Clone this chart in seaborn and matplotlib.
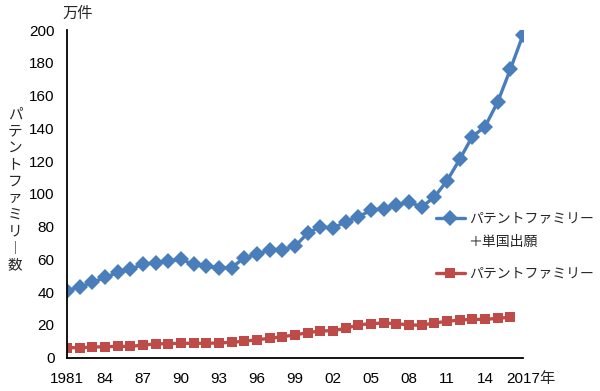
import matplotlib
matplotlib.use("Agg")
import matplotlib.pyplot as plt
import seaborn as sns
import pandas as pd

# データ（万件）
years_total = list(range(1981, 2018))
family_plus_single = [41, 43, 46, 49, 52, 54, 57, 58, 59, 60, 57, 56, 55, 55, 61,
                      63, 66, 66, 68, 76, 80, 79, 83, 86, 90, 91, 93, 95, 92, 98,
                      108, 121, 135, 141, 156, 176, 197]
years_family = list(range(1981, 2017))
family = [6.1, 6.1, 6.5, 6.7, 6.9, 6.9, 7.7, 8.4, 8.6, 8.8, 8.8, 8.8, 9.0, 9.4, 10.0,
          11.0, 11.8, 12.8, 13.9, 15.3, 16.3, 16.5, 17.9, 20.0, 20.8, 21.2, 20.8, 20.0,
          19.8, 21.2, 22.2, 23.0, 23.4, 23.4, 24.0, 24.7]

label_total = "パテントファミリー"
label_total_2 = "＋単国出願"
label_family = "パテントファミリー"
ylabel = "パテントファミリー数"
unit = "万件"

xtick_years = list(range(1981, 2018, 3))
xtick_labels = ["1981", "84", "87", "90", "93", "96", "99", "02", "05", "08", "11", "14", "2017"]

df_total = pd.DataFrame({"year": years_total, "value": family_plus_single})
df_family = pd.DataFrame({"year": years_family, "value": family})

sns.set_theme(style="white")
plt.rcParams["font.family"] = ["Liberation Sans", "Noto Sans CJK JP", "DejaVu Sans"]

fig = plt.figure(figsize=(6, 3.91), dpi=100)
ax = fig.add_axes([67 / 600, 1 - 357.7 / 391, (523 - 67) / 600, (357.7 - 30) / 391])

blue = "#4a7ebb"
red = "#be4b48"
sns.lineplot(data=df_total, x="year", y="value", ax=ax, color=blue, lw=2.4,
             marker="D", markersize=8, markeredgewidth=0, label=label_total)
sns.lineplot(data=df_family, x="year", y="value", ax=ax, color=red, lw=2.4,
             marker="s", markersize=7.5, markeredgewidth=0, label=label_family)

ax.set_xlim(1981, 2017)
ax.set_ylim(0, 200)
ax.set_yticks(range(0, 201, 20))
ax.set_xticks(xtick_years)
ax.set_xticklabels(xtick_labels)
ax.set_xticks(range(1981, 2018), minor=True)
ax.set_xlabel("")
ax.set_ylabel("")

for s in ["top", "right"]:
    ax.spines[s].set_visible(False)
for s in ["left", "bottom"]:
    ax.spines[s].set_color("black")
    ax.spines[s].set_linewidth(1.3)
ax.tick_params(axis="both", which="both", direction="in", color="black",
               width=1.2, labelsize=11, labelcolor="black")
ax.tick_params(axis="both", which="major", length=5, pad=9)
ax.tick_params(axis="x", which="minor", length=5)
ax.tick_params(axis="x", which="major", pad=10)

ax.annotate("年", xy=(2017, 0), xycoords=("data", "axes fraction"),
            xytext=(12, -10), textcoords="offset points", ha="left", va="top",
            fontsize=11)

fig.text(62 / 600, 1 - 14 / 391, unit, fontsize=11, ha="left", va="center")
fig.text(15 / 600, 1 - 190 / 391, "\n".join(ylabel.replace("ー", "︱")),
         fontsize=10.5, ha="center", va="center", linespacing=1.25)

leg = ax.legend(loc="upper left", bbox_to_anchor=(430 / 600, 1 - 206 / 391),
                bbox_transform=fig.transFigure, frameon=False, fontsize=10,
                handlelength=2.1, handletextpad=0.3, labelspacing=2.95,
                borderaxespad=0)
fig.text(468 / 600, 1 - 242 / 391, label_total_2, fontsize=10, ha="left", va="center")

fig.savefig("out.png", dpi=100)
